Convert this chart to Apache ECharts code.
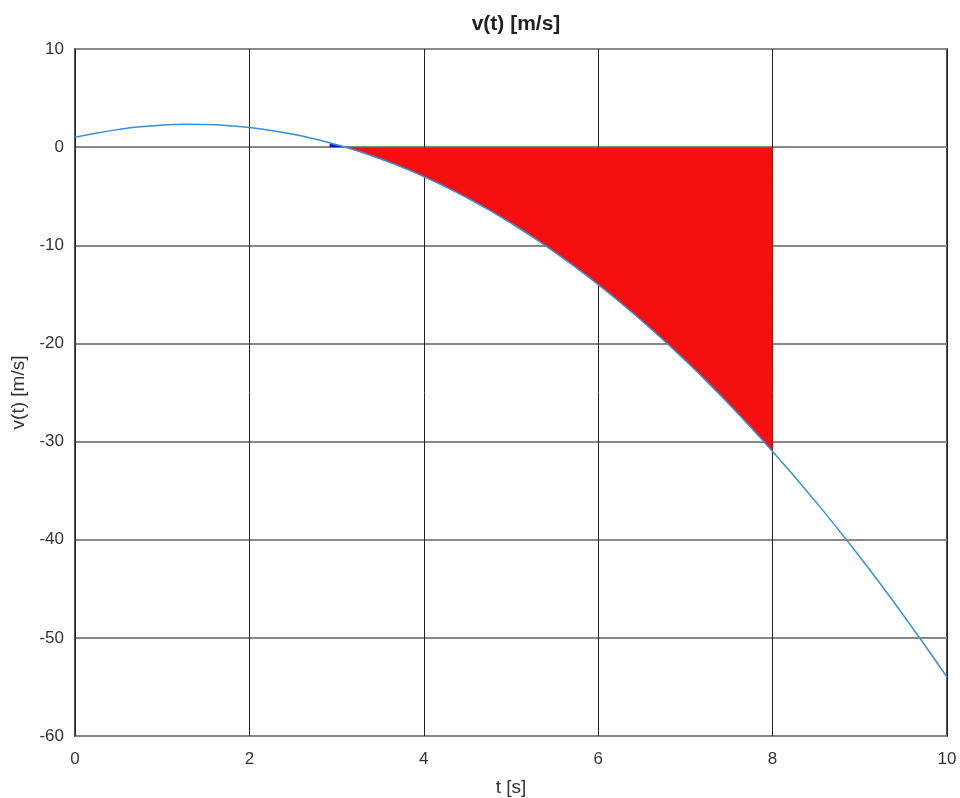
<!DOCTYPE html>
<html>
<head>
<meta charset="utf-8">
<script src="https://cdn.jsdelivr.net/npm/echarts@6/dist/echarts.min.js"></script>
<style>
html, body { margin: 0; padding: 0; background: #fff; }
#mybox { width: 960px; height: 798px; }
</style>
</head>
<body>
<div id="mybox"></div>
<script>
// time samples [s] and velocity
var tValues = [0, 0.25, 0.5, 0.75, 1, 1.25, 1.5, 1.75, 2, 2.25, 2.5, 2.75, 3, 3.25, 3.5, 3.75,
    4, 4.25, 4.5, 4.75, 5, 5.25, 5.5, 5.75, 6, 6.25, 6.5, 6.75, 7, 7.25, 7.5, 7.75,
    8, 8.25, 8.5, 8.75, 9, 9.25, 9.5, 9.75, 10];
var vValues = [1, 1.45, 1.81, 2.08, 2.25, 2.33, 2.31, 2.2, 2, 1.7, 1.31, 0.83, 0.25, -0.42, -1.19, -2.05,
    -3, -4.05, -5.19, -6.42, -7.75, -9.17, -10.69, -12.3, -14, -15.8, -17.69, -19.67, -21.75, -23.92, -26.19, -28.55,
    -31, -33.55, -36.19, -38.92, -41.75, -44.67, -47.69, -50.8, -54];

// shaded area (integral) pieces
var posFillT = [2.92, 3, 3.1];
var posFillV = [0.4, 0.25, 0];
var negFillT = [3.1, 3.25, 3.5, 3.75, 4, 4.25, 4.5, 4.75, 5, 5.25, 5.5, 5.75, 6, 6.25, 6.5, 6.75, 7, 7.25, 7.5, 7.75, 8];
var negFillV = [0, -0.42, -1.19, -2.05, -3, -4.05, -5.19, -6.42, -7.75, -9.17, -10.69, -12.3, -14, -15.8, -17.69, -19.67, -21.75, -23.92, -26.19, -28.55, -31];

var xTicks = [0, 2, 4, 6, 8, 10];
var yTicks = [10, 0, -10, -20, -30, -40, -50, -60];

function pairs(xs, ys) {
    var out = [];
    for (var i = 0; i < xs.length; i++) out.push([xs[i], ys[i]]);
    return out;
}

var mycharts = echarts.init(document.getElementById('mybox'));

var optionObj = {
    animation: false,
    textStyle: { fontFamily: 'Liberation Sans, Arial, sans-serif' },
    title: {
        text: 'v(t) [m/s]',
        left: 511,
        textAlign: 'center',
        top: 9,
        textStyle: { fontSize: 21, fontWeight: 'bold', color: '#222' }
    },
    grid: {
        left: 75, right: 13, top: 49, bottom: 62,
        outerBoundsMode: 'none',
        show: true, borderColor: '#555', borderWidth: 2, backgroundColor: 'transparent'
    },
    xAxis: {
        type: 'value',
        min: xTicks[0], max: xTicks[xTicks.length - 1], interval: 2,
        name: 't [s]', nameLocation: 'middle', nameGap: 42,
        nameTextStyle: { fontSize: 19, color: '#333' },
        axisLine: { show: false },
        axisTick: { show: false },
        axisLabel: { fontSize: 17, color: '#333', margin: 15 },
        splitLine: { show: true, lineStyle: { color: '#222', width: 1 } }
    },
    yAxis: {
        type: 'value',
        min: yTicks[yTicks.length - 1], max: yTicks[0], interval: 10,
        name: 'v(t) [m/s]', nameLocation: 'middle', nameGap: 47,
        nameTextStyle: { fontSize: 19, color: '#333' },
        axisLine: { show: false },
        axisTick: { show: false },
        axisLabel: { fontSize: 17, color: '#333', margin: 11 },
        splitLine: { show: true, lineStyle: { color: '#888', width: 2 } }
    },
    series: [
        {
            name: 'pos',
            type: 'line',
            data: pairs(posFillT, posFillV),
            symbol: 'none',
            lineStyle: { width: 0 },
            areaStyle: { color: '#1515e6', opacity: 1, origin: 0 },
            z: 2
        },
        {
            name: 'neg',
            type: 'line',
            data: pairs(negFillT, negFillV),
            symbol: 'none',
            smooth: true,
            lineStyle: { width: 0 },
            areaStyle: { color: '#f70f0f', opacity: 1, origin: 0 },
            z: 2
        },
        {
            name: 'v(t)',
            type: 'line',
            data: pairs(tValues, vValues),
            symbol: 'none',
            smooth: true,
            lineStyle: { color: '#3b8fd4', width: 1.5 },
            z: 3
        }
    ]
};

mycharts.setOption(optionObj);
</script>
</body>
</html>
